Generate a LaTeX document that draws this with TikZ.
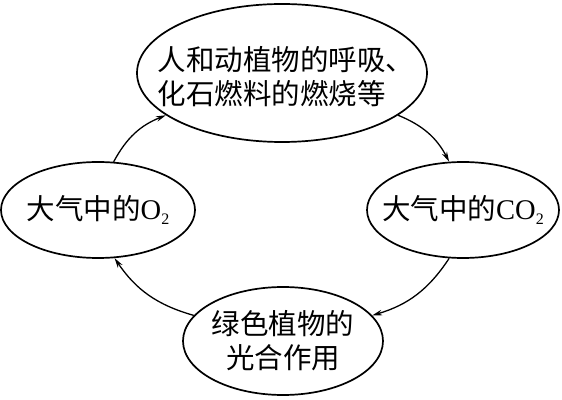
\documentclass[tikz,border=0pt]{standalone}
\usepackage{fontspec}
\setmainfont{Noto Sans CJK SC}
\newfontfamily\latin{Liberation Serif}
\usetikzlibrary{shapes.geometric,arrows.meta}
\newcommand{\chem}[2]{{\latin #1\raisebox{-0.35ex}{\fontsize{16}{16}\selectfont #2}}}
\begin{document}
\begin{tikzpicture}[
    x=1pt, y=1pt,
    stage/.style={
        ellipse, draw=black, line width=1.7pt, inner sep=0pt
    },
    every label/.style={
        align=center, inner sep=0pt, font=\fontsize{28.5}{34}\selectfont
    },
    flow/.style={-{Stealth[length=10pt,width=5.5pt]}, line width=1.3pt, bend left=20}
]
\useasboundingbox (0,0) rectangle (562,399);

% Stages
\node[stage, minimum width=290pt, minimum height=138pt,
      label={[align=left, xshift=4pt, yshift=-4pt]center:人和动植物的呼吸、\\化石燃料的燃烧等}] (burn) at (282,326) {};
\node[stage, minimum width=194pt, minimum height=96pt,
      label={center:大气中的\chem{O}{2}}] (oxygen) at (98,189) {};
\node[stage, minimum width=192pt, minimum height=96pt,
      label={center:大气中的\chem{CO}{2}}] (carbon) at (463,189) {};
\node[stage, minimum width=200pt, minimum height=108pt,
      label={center:绿色植物的\\光合作用}] (photo) at (283,58) {};

% Cycle
\draw[flow] (oxygen.72) to (burn.200);
\draw[flow] (burn.340) to (carbon.106);
\draw[flow] (carbon.254) to (photo.16);
\draw[flow] (photo.164) to (oxygen.289);

\end{tikzpicture}
\end{document}
